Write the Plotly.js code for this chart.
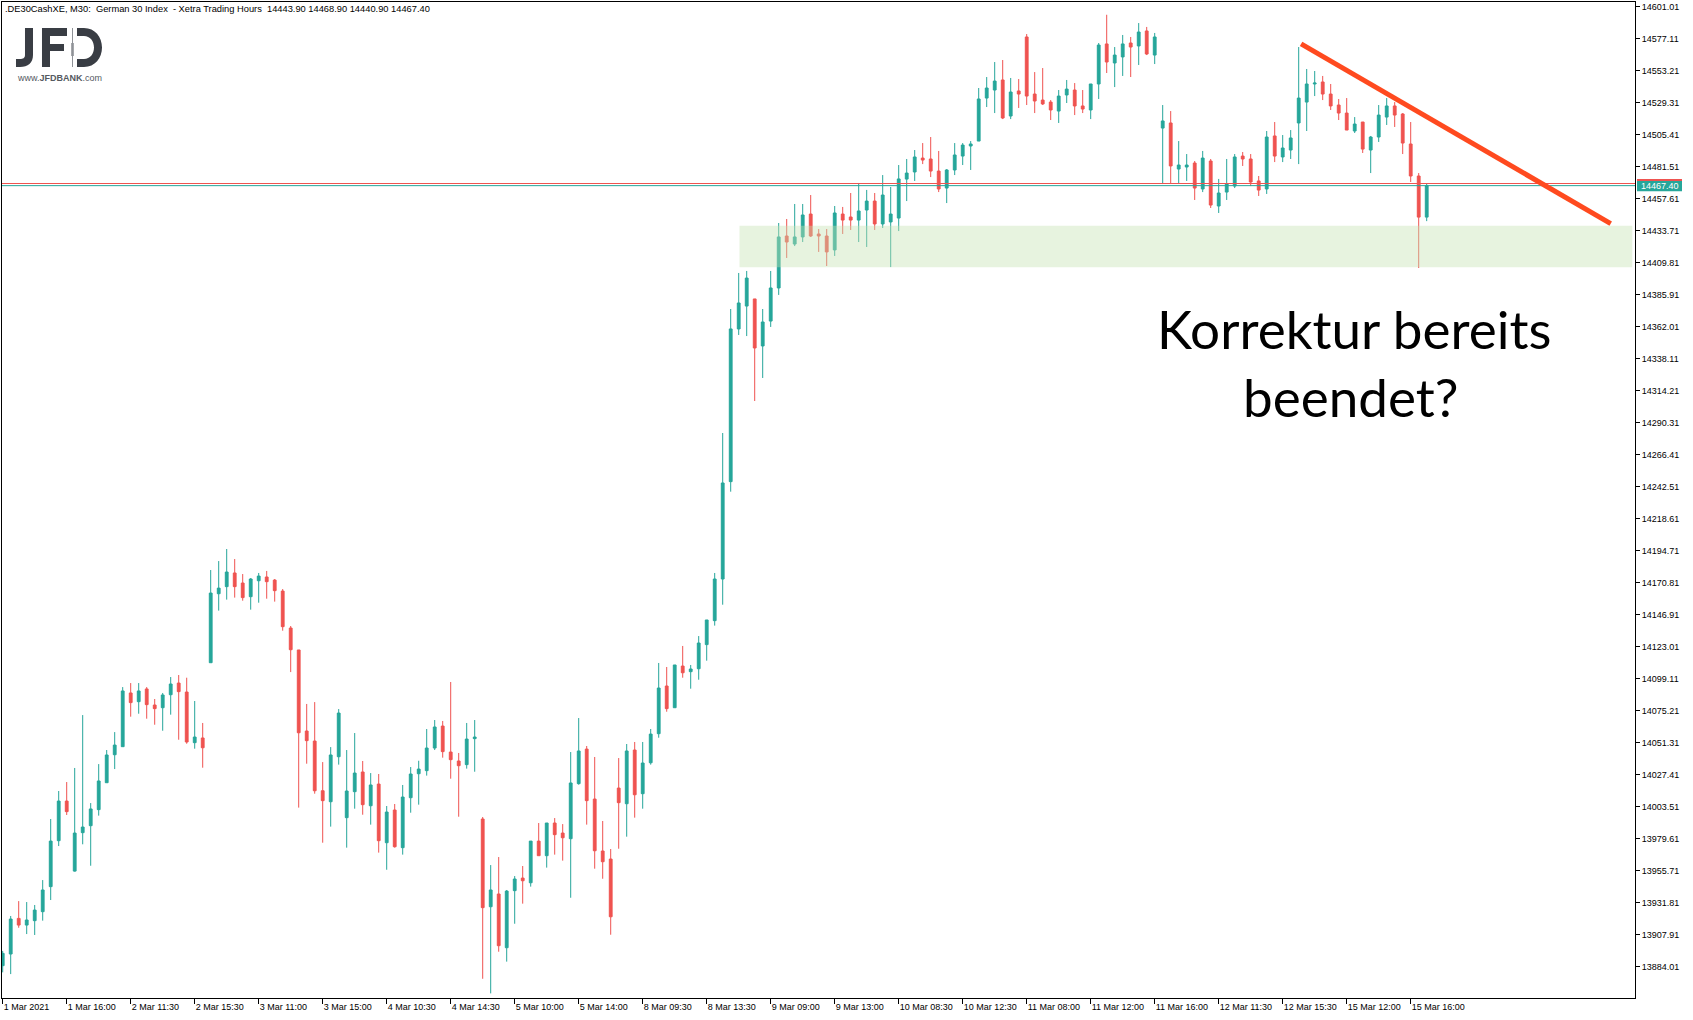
<!DOCTYPE html>
<html>
<head>
<meta charset="utf-8">
<script src="https://cdn.plot.ly/plotly-3.0.1.min.js"></script>
<style>html,body{margin:0;padding:0;background:#fff;}#chart{width:1693px;height:1020px;}</style>
</head>
<body>
<div id="chart"></div>
<script>
// ---- DATA ----
const openP = [13885.0,13893.7,13920.3,13915.3,13918.6,13925.3,13944.0,13978.3,14007.9,13955.6,
13984.3,13989.5,14001.5,14021.6,14042.5,14048.5,14088.6,14082.1,14091.6,14079.6,
14077.6,14087.3,14096.0,14089.3,14051.5,14055.0,14111.2,14162.7,14168.0,14178.2,
14170.7,14160.5,14172.4,14175.2,14172.9,14164.7,14137.1,14120.7,14060.2,14052.7,
14015.6,14007.4,14041.0,13995.5,14014.9,14029.6,14004.4,14020.6,13976.8,14001.2,
13973.1,14010.4,14028.3,14030.6,14047.5,14063.9,14044.5,14037.8,14035.1,14054.5,
13994.5,13929.0,13938.5,13898.4,13941.0,13950.4,13946.9,13978.0,13967.1,13991.5,
13984.0,13979.8,14020.9,14046.7,14009.4,13970.6,13964.6,14017.6,14005.9,14046.0,
14013.4,14036.5,14058.2,14093.8,14077.6,14108.7,14104.5,14106.7,14124.7,14142.6,
14173.7,14246.4,14360.4,14377.5,14382.8,14347.7,14366.3,14391.0,14429.8,14423.8,
14429.1,14446.2,14431.3,14429.8,14419.4,14446.2,14444.0,14441.7,14449.2,14455.9,
14438.8,14440.3,14443.2,14472.3,14477.6,14488.0,14487.3,14478.3,14465.6,14479.1,
14489.5,14497.0,14500.7,14532.8,14538.8,14546.3,14519.4,14538.1,14578.4,14535.8,
14531.3,14529.8,14523.1,14535.1,14538.8,14526.9,14523.9,14543.3,14573.2,14559.0,
14563.5,14573.9,14571.7,14582.9,14564.9,14510.4,14514.2,14479.8,14481.3,14484.3,
14464.9,14485.8,14452.2,14462.6,14467.1,14489.5,14487.3,14470.9,14464.9,14504.5,
14488.8,14494.0,14514.2,14529.8,14543.3,14544.8,14535.8,14527.6,14521.6,14508.2,
14514.9,14494.0,14503.7,14518.6,14526.9,14520.9,14498.5,14474.6,14443.9];
const highP = [13896.0,13922.1,13933.2,13932.5,13930.3,13948.9,13994.5,14015.4,14022.1,14032.6,
14072.1,14006.4,14035.5,14046.0,14059.4,14093.0,14096.0,14096.0,14093.0,14084.1,
14088.6,14100.5,14102.0,14100.0,14082.6,14066.2,14180.4,14187.1,14196.1,14188.6,
14177.4,14174.4,14178.2,14179.7,14173.7,14166.2,14138.6,14120.7,14080.4,14081.8,
14037.0,14048.2,14076.6,14046.0,14058.7,14037.8,14028.8,14028.1,14004.2,14005.7,
14019.9,14033.3,14038.0,14061.7,14068.4,14067.7,14096.8,14043.8,14066.2,14068.4,
13996.0,13960.1,13966.1,13941.5,13951.9,13959.4,13978.0,13991.5,13991.5,13995.2,
13990.7,14044.5,14069.9,14049.0,14040.8,13993.0,13972.1,14040.0,14050.5,14052.0,
14052.0,14061.7,14111.0,14108.0,14109.5,14123.7,14109.5,14131.1,14143.1,14178.2,
14282.7,14375.3,14402.2,14403.7,14382.8,14375.3,14403.7,14439.5,14442.5,14453.7,
14453.7,14460.4,14435.0,14435.0,14452.2,14451.5,14461.9,14469.4,14464.2,14461.9,
14475.3,14466.4,14482.8,14487.3,14494.0,14499.2,14503.7,14493.3,14479.8,14499.2,
14499.2,14500.7,14540.3,14548.5,14559.7,14561.2,14547.8,14547.0,14580.6,14552.2,
14555.2,14531.3,14538.8,14546.3,14544.0,14538.8,14543.3,14573.9,14595.0,14570.9,
14579.9,14578.4,14588.8,14585.9,14581.4,14527.6,14523.1,14500.7,14491.0,14485.8,
14493.3,14487.3,14472.4,14487.3,14491.0,14492.5,14491.0,14474.6,14508.2,14514.9,
14505.2,14508.9,14570.9,14554.5,14553.0,14549.3,14543.3,14532.1,14532.8,14518.6,
14514.9,14504.5,14527.6,14532.8,14529.8,14521.6,14514.9,14476.8,14468.9];
const lowP = [13880.0,13878.7,13913.3,13908.6,13907.9,13918.6,13934.0,13974.3,13997.5,13955.2,
13975.6,13959.6,13997.0,14021.6,14031.8,14048.5,14070.9,14073.1,14069.4,14064.9,
14060.4,14072.4,14053.7,14050.7,14047.0,14032.8,14111.2,14150.1,14158.3,14159.8,
14157.5,14150.8,14156.0,14159.0,14156.8,14135.1,14104.2,14003.0,14035.8,14013.4,
13976.8,13988.8,14035.1,13973.1,14002.2,13997.7,13990.3,13969.4,13956.6,13973.1,
13967.9,13999.2,14005.2,14026.9,14046.0,14040.3,14024.6,13996.2,14032.1,14029.8,
13875.2,13864.3,13895.4,13888.0,13916.3,13931.3,13944.0,13967.1,13958.2,13967.9,
13963.4,13935.7,14020.1,13990.3,13957.4,13949.9,13908.1,13972.3,13981.3,13995.5,
14002.2,14035.1,14055.2,14074.6,14077.6,14100.0,14091.8,14098.5,14112.7,14138.9,
14154.5,14238.9,14355.9,14355.1,14306.6,14323.8,14361.9,14385.8,14413.4,14422.3,
14425.3,14429.1,14417.9,14407.4,14414.9,14431.3,14434.3,14425.3,14421.6,14434.3,
14435.8,14406.6,14433.5,14455.9,14470.9,14483.5,14473.8,14462.6,14454.4,14475.3,
14482.8,14479.1,14500.7,14526.1,14521.6,14517.1,14517.1,14525.4,14527.6,14521.6,
14527.6,14516.4,14514.2,14529.1,14520.1,14521.6,14517.1,14532.1,14551.5,14541.0,
14549.3,14548.5,14557.5,14564.9,14558.2,14468.6,14468.6,14468.6,14470.9,14456.7,
14462.6,14450.7,14447.0,14456.7,14465.6,14482.1,14467.1,14459.7,14461.2,14485.0,
14485.0,14487.3,14483.5,14508.2,14534.3,14531.3,14523.9,14516.4,14508.9,14506.7,
14491.8,14476.8,14500.0,14512.7,14511.2,14491.0,14470.1,14405.9,14440.9];
const closeP = [13894.2,13919.8,13915.3,13919.1,13926.5,13941.5,13978.0,14007.9,14000.0,13984.0,
13988.5,14002.0,14022.9,14042.3,14049.7,14090.1,14081.4,14090.1,14079.9,14076.9,
14087.1,14095.3,14089.6,14052.0,14055.7,14047.7,14163.2,14166.9,14178.9,14168.0,
14159.8,14173.7,14175.9,14171.7,14165.0,14138.1,14120.9,14058.9,14053.0,14015.6,
14008.2,14042.3,14073.6,14015.4,14028.8,14005.2,14019.9,13978.3,13999.7,13973.8,
14010.9,14028.1,14031.8,14047.5,14063.2,14044.8,14038.8,14034.3,14054.2,14055.7,
13928.3,13941.5,13899.9,13940.7,13949.7,13948.4,13978.0,13967.1,13991.5,13982.8,
13980.5,14021.4,14045.3,14008.2,13970.8,13962.6,13921.5,14006.7,14045.3,14012.6,
14036.3,14057.9,14092.3,14076.9,14109.5,14103.7,14106.5,14125.9,14143.1,14173.7,
14245.4,14360.4,14379.8,14398.4,14346.2,14365.6,14391.0,14429.1,14425.3,14429.1,
14445.5,14429.8,14429.8,14417.9,14447.0,14441.7,14441.7,14448.5,14455.9,14438.8,
14460.4,14446.2,14472.4,14476.8,14488.8,14486.5,14478.3,14464.9,14479.1,14490.3,
14497.7,14498.5,14532.1,14540.3,14545.5,14517.9,14537.3,14535.8,14534.3,14530.6,
14528.4,14523.9,14534.3,14539.5,14526.9,14524.6,14543.3,14572.4,14559.7,14564.9,
14573.2,14570.9,14582.1,14565.7,14578.4,14515.7,14482.1,14482.8,14482.8,14465.6,
14488.0,14452.9,14461.9,14468.6,14488.8,14487.3,14470.1,14464.1,14503.7,14489.5,
14495.5,14503.0,14532.8,14543.3,14544.0,14535.8,14526.9,14521.6,14508.9,14513.4,
14494.7,14503.7,14520.1,14526.9,14520.1,14499.2,14474.6,14443.9,14467.4];

const xTickLabels = ['1 Mar 2021','1 Mar 16:00','2 Mar 11:30','2 Mar 15:30','3 Mar 11:00','3 Mar 15:00',
'4 Mar 10:30','4 Mar 14:30','5 Mar 10:00','5 Mar 14:00','8 Mar 09:30','8 Mar 13:30','9 Mar 09:00',
'9 Mar 13:00','10 Mar 08:30','10 Mar 12:30','11 Mar 08:00','11 Mar 12:00','11 Mar 16:00',
'12 Mar 11:30','12 Mar 15:30','15 Mar 12:00','15 Mar 16:00'];
const yTickLabels = ['14601.01','14577.11','14553.21','14529.31','14505.41','14481.51','14457.61',
'14433.71','14409.81','14385.91','14362.01','14338.11','14314.21','14290.31','14266.41','14242.51',
'14218.61','14194.71','14170.81','14146.91','14123.01','14099.11','14075.21','14051.31','14027.41',
'14003.51','13979.61','13955.71','13931.81','13907.91','13884.01'];

const headerText = '.DE30CashXE, M30:\u00a0 German 30 Index\u00a0 - Xetra Trading Hours\u00a0 14443.90 14468.90 14440.90 14467.40';
const bidPrice = 14467.4;
const askPrice = 14469.0;
const supportZone = [14406.4, 14437.5];          // price band of the shaded zone
const supportZoneBars = [92.1, 203.7];           // bar span of the shaded zone
const trendLine = [[162.3, 14573.2], [201.0, 14439.1]]; // drawn resistance line (bar, price)
const noteLines = ['Korrektur bereits', 'beendet?'];

// ---- LAYOUT HELPERS ----
const W = 1693, H = 1020;
const PL = 2, PR = 1635, PT = 2, PB = 998;
const pw = PR - PL, ph = PB - PT;
const px2x = v => (v - PL) / pw;
const px2y = v => 1 - (v - PT) / ph;
function pathPx(cmds) {
  return cmds.replace(/(-?\d+(?:\.\d+)?),(-?\d+(?:\.\d+)?)/g, (m, a, b) =>
    px2x(parseFloat(a)).toFixed(5) + ',' + px2y(parseFloat(b)).toFixed(5));
}

const xIdx = openP.map((_, i) => i);
const xTickVals = xTickLabels.map((_, k) => k * 8);
const yTickVals = yTickLabels.map(Number);

const teal = '#26a69a', red = '#ef5350';
const axisFont = {family: 'Liberation Sans, Arial, sans-serif', size: 9, color: '#000'};

const trace = {
  type: 'candlestick',
  x: xIdx, open: openP, high: highP, low: lowP, close: closeP,
  increasing: {line: {color: teal, width: 1}, fillcolor: teal},
  decreasing: {line: {color: red, width: 1}, fillcolor: red},
  whiskerwidth: 0,
  hoverinfo: 'skip',
  showlegend: false
};

const logoColor = '#393d44';
const shapes = [
  {type: 'rect', xref: 'x', yref: 'y', x0: supportZoneBars[0], x1: supportZoneBars[1],
   y0: supportZone[0], y1: supportZone[1], fillcolor: 'rgba(198,226,178,0.42)',
   line: {width: 0}, layer: 'above'},
  {type: 'line', xref: 'paper', yref: 'y', x0: 0, x1: 1, y0: askPrice, y1: askPrice,
   line: {color: red, width: 1}, layer: 'above'},
  {type: 'line', xref: 'paper', yref: 'y', x0: 0, x1: 1, y0: bidPrice, y1: bidPrice,
   line: {color: teal, width: 1}, layer: 'above'},
  {type: 'line', xref: 'x', yref: 'y', x0: trendLine[0][0], y0: trendLine[0][1],
   x1: trendLine[1][0], y1: trendLine[1][1], line: {color: '#ff4a1f', width: 5}, layer: 'above'},
  {type: 'rect', xref: 'paper', yref: 'y', x0: px2x(1637), x1: px2x(1682),
   y0: bidPrice + 3.4, y1: bidPrice + 4.9, fillcolor: red, line: {width: 0}},
  {type: 'rect', xref: 'paper', yref: 'y', x0: px2x(1637), x1: px2x(1682),
   y0: bidPrice - 4.2, y1: bidPrice + 3.4, fillcolor: teal, line: {width: 0}},
  {type: 'path', xref: 'paper', yref: 'paper', fillcolor: logoColor, line: {width: 0},
   path: pathPx('M25,28 L33,28 L33,55 C33,63 28,67 20,67 L16,67 L16,59 L20,59 C23,59 25,58 25,55 Z')},
  {type: 'path', xref: 'paper', yref: 'paper', fillcolor: logoColor, line: {width: 0},
   path: pathPx('M42,28 L67,28 L67,36 L50,36 L50,44 L64,44 L64,51 L50,51 L50,67 L42,67 Z')},
  {type: 'path', xref: 'paper', yref: 'paper', fillcolor: logoColor, line: {width: 0}, fillrule: 'evenodd',
   path: pathPx('M77,28 L84,28 C95,28 102,37 102,47.5 C102,58 95,67 84,67 L77,67 Z M77,36 L84,36 C90,36 94,41 94,47.5 C94,54 90,59 84,59 L77,59 Z')},
  {type: 'line', xref: 'paper', yref: 'paper', x0: px2x(72.5), x1: px2x(72.5), y0: px2y(28), y1: px2y(67),
   line: {color: '#8f9297', width: 1}},
  {type: 'rect', xref: 'paper', yref: 'paper', x0: px2x(71.2), x1: px2x(73.8), y0: px2y(43), y1: px2y(56),
   fillcolor: '#8f9297', line: {width: 0}}
];

const annotations = [
  {xref: 'paper', yref: 'paper', x: px2x(3), y: px2y(9.5), xanchor: 'left', yanchor: 'middle',
   text: headerText, showarrow: false,
   font: {family: 'Liberation Sans, Arial, sans-serif', size: 9.3, color: '#000'}},
  {xref: 'paper', yref: 'paper', x: px2x(15), y: px2y(78), xanchor: 'left', yanchor: 'middle',
   text: 'www.<b>JFDBANK</b>.com', showarrow: false,
   font: {family: 'Liberation Sans, Arial, sans-serif', size: 9, color: '#55595f'}},
  {xref: 'paper', yref: 'y', x: px2x(1639), y: bidPrice - 0.4, xanchor: 'left', yanchor: 'middle',
   text: bidPrice.toFixed(2), showarrow: false,
   font: {family: 'Liberation Sans, Arial, sans-serif', size: 9, color: '#fff'}},
  {xref: 'paper', yref: 'paper', x: px2x(1354), y: px2y(328), xanchor: 'center', yanchor: 'middle',
   text: noteLines[0], showarrow: false, font: {family: 'Lato, sans-serif', size: 53, color: '#000'}},
  {xref: 'paper', yref: 'paper', x: px2x(1350), y: px2y(396), xanchor: 'center', yanchor: 'middle',
   text: noteLines[1], showarrow: false, font: {family: 'Lato, sans-serif', size: 53, color: '#000'}}
];

const layout = {
  width: W, height: H,
  margin: {l: PL, r: W - PR, t: PT, b: H - PB, pad: 0},
  paper_bgcolor: '#fff', plot_bgcolor: '#fff',
  boxgap: 0.5,
  hovermode: false,
  showlegend: false,
  xaxis: {
    type: 'linear', range: [-0.0875, 204.0375], fixedrange: true,
    rangeslider: {visible: false},
    tickmode: 'array', tickvals: xTickVals, ticktext: xTickLabels,
    ticks: 'outside', ticklen: 5, tickwidth: 1, tickcolor: '#000',
    ticklabelposition: 'outside right',
    tickfont: axisFont,
    showgrid: false, zeroline: false,
    showline: true, mirror: true, linecolor: '#000', linewidth: 1
  },
  yaxis: {
    side: 'right', range: [13860.85, 14604.52], fixedrange: true,
    tickmode: 'array', tickvals: yTickVals, ticktext: yTickLabels,
    ticks: 'outside', ticklen: 4, tickwidth: 1, tickcolor: '#000',
    tickfont: axisFont,
    showgrid: false, zeroline: false,
    showline: true, mirror: true, linecolor: '#000', linewidth: 1
  },
  shapes: shapes,
  annotations: annotations
};

Plotly.newPlot('chart', [trace], layout, {staticPlot: true, displayModeBar: false});
</script>
</body>
</html>
